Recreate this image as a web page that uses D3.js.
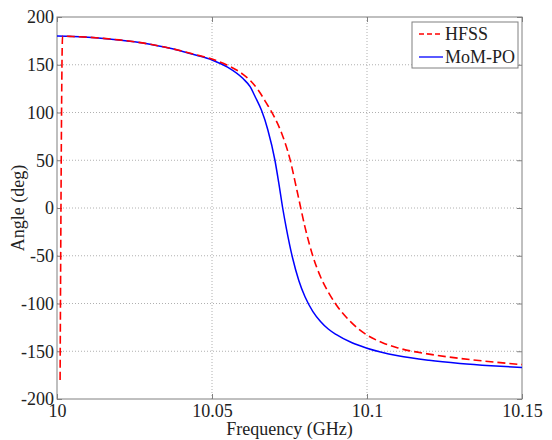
<!DOCTYPE html>
<html>
<head>
<meta charset="utf-8">
<script src="https://cdn.jsdelivr.net/npm/d3@7"></script>
<style>
  body { margin: 0; background: #fff; }
  text { font-family: "Liberation Serif", "Times New Roman", serif; fill: #222; }
</style>
</head>
<body>
<div id="chart"></div>
<script>
// frequency (GHz) and angle (deg)
var hfssFreq  = [10.001, 10.0018, 10.005, 10.01, 10.015, 10.02, 10.025, 10.03, 10.035, 10.04, 10.045, 10.05, 10.055, 10.06, 10.0625, 10.065, 10.0675, 10.07, 10.0725, 10.075, 10.0775, 10.08, 10.0825, 10.085, 10.0875, 10.09, 10.095, 10.1, 10.105, 10.11, 10.12, 10.13, 10.14, 10.15];
var hfssAngle = [-180, 180, 179.6, 178.8, 177.6, 176, 174, 171.5, 168.3, 164.6, 160.4, 156, 149.5, 140, 133, 123, 110, 96, 78, 53, 17, -20, -50, -72, -88, -101, -120, -133, -141, -146.5, -153, -157.5, -161, -164];

var momFreq  = [10.0, 10.005, 10.01, 10.015, 10.02, 10.025, 10.03, 10.035, 10.04, 10.045, 10.05, 10.055, 10.06, 10.0623, 10.064, 10.066, 10.068, 10.0703, 10.0715, 10.0728, 10.074, 10.076, 10.078, 10.08, 10.0825, 10.085, 10.0875, 10.09, 10.095, 10.1, 10.11, 10.12, 10.13, 10.14, 10.15];
var momAngle = [180, 179.6, 178.8, 177.6, 176, 174, 171.5, 168.3, 164.5, 160, 155, 147.5, 135.5, 127, 116, 102, 82, 50, 27, 0, -21.5, -52.4, -75.9, -93, -108.2, -118.8, -126.7, -132.4, -140.9, -146.8, -154.7, -159.5, -162.8, -165.2, -167];

var xTicks = [10, 10.05, 10.1, 10.15];
var yTicks = [-200, -150, -100, -50, 0, 50, 100, 150, 200];
var seriesNames = ["HFSS", "MoM-PO"];

var width = 552, height = 440;
var pLeft = 57, pRight = 522, pTop = 17, pBottom = 399;
var fontSize = "18px";

var svg = d3.select("#chart").append("svg")
  .attr("width", width)
  .attr("height", height);

var x = d3.scaleLinear().domain([10, 10.15]).range([pLeft, pRight]);
var y = d3.scaleLinear().domain([-200, 200]).range([pBottom, pTop]);

// grid
svg.selectAll(".gx")
  .data(xTicks.slice(1, -1))
  .enter().append("line")
    .attr("x1", d => x(d)).attr("x2", d => x(d))
    .attr("y1", pTop).attr("y2", pBottom)
    .attr("stroke", "#b0b0b0").attr("stroke-dasharray", "1,2");
svg.selectAll(".gy")
  .data(yTicks.slice(1, -1))
  .enter().append("line")
    .attr("x1", pLeft).attr("x2", pRight)
    .attr("y1", d => y(d)).attr("y2", d => y(d))
    .attr("stroke", "#b0b0b0").attr("stroke-dasharray", "1,2");

// axes, ticks inward like matlab
var fmt = d => String(d);
var axB = svg.append("g").attr("transform", "translate(0," + pBottom + ")")
  .call(d3.axisBottom(x).tickValues(xTicks).tickSizeInner(-5).tickSizeOuter(0).tickPadding(5).tickFormat(fmt));
var axL = svg.append("g").attr("transform", "translate(" + pLeft + ",0)")
  .call(d3.axisLeft(y).tickValues(yTicks).tickSizeInner(-5).tickSizeOuter(0).tickPadding(3).tickFormat(fmt));
svg.append("g").attr("transform", "translate(0," + pTop + ")")
  .call(d3.axisTop(x).tickValues(xTicks).tickSizeInner(-5).tickSizeOuter(0).tickFormat(""));
svg.append("g").attr("transform", "translate(" + pRight + ",0)")
  .call(d3.axisRight(y).tickValues(yTicks).tickSizeInner(-5).tickSizeOuter(0).tickFormat(""));

svg.selectAll(".domain").remove();
svg.selectAll(".tick line").attr("stroke", "#808080");
[axB, axL].forEach(function(a) {
  a.selectAll("text")
    .style("font-family", '"Liberation Serif", serif')
    .style("font-size", fontSize)
    .attr("fill", "#222");
});

svg.append("rect")
  .attr("x", pLeft).attr("y", pTop)
  .attr("width", pRight - pLeft).attr("height", pBottom - pTop)
  .attr("fill", "none").attr("stroke", "#808080").attr("stroke-width", 1);

// curves
var line = d3.line()
  .x(d => x(d[0]))
  .y(d => y(d[1]))
  .curve(d3.curveMonotoneX);

svg.append("path")
  .datum(momFreq.map((f, i) => [f, momAngle[i]]))
  .attr("d", line)
  .attr("fill", "none").attr("stroke", "#0000ff").attr("stroke-width", 1.5);

svg.append("path")
  .datum(hfssFreq.map((f, i) => [f, hfssAngle[i]]))
  .attr("d", line)
  .attr("fill", "none").attr("stroke", "#ff0000").attr("stroke-width", 1.6)
  .attr("stroke-dasharray", "8,4");

// labels
svg.append("text")
  .attr("x", (pLeft + pRight) / 2).attr("y", 435)
  .attr("text-anchor", "middle")
  .style("font-size", fontSize)
  .text("Frequency (GHz)");

svg.append("text")
  .attr("transform", "translate(24," + ((pTop + pBottom) / 2) + ") rotate(-90)")
  .attr("text-anchor", "middle")
  .style("font-size", fontSize)
  .text("Angle (deg)");

// legend
var lg = svg.append("g");
lg.append("rect")
  .attr("x", 412).attr("y", 22).attr("width", 106).attr("height", 46)
  .attr("fill", "#fff").attr("stroke", "#808080");
lg.selectAll(".ll")
  .data(seriesNames)
  .enter().append("line")
    .attr("x1", 419).attr("x2", 443)
    .attr("y1", (d, i) => 34 + i * 23).attr("y2", (d, i) => 34 + i * 23)
    .attr("stroke", (d, i) => i == 0 ? "#ff0000" : "#0000ff")
    .attr("stroke-width", 1.3)
    .attr("stroke-dasharray", (d, i) => i == 0 ? "5,3" : null);
lg.selectAll(".lt")
  .data(seriesNames)
  .enter().append("text")
    .attr("x", 445)
    .attr("y", (d, i) => 40 + i * 23)
    .style("font-size", fontSize)
    .text(d => d);
</script>
</body>
</html>
